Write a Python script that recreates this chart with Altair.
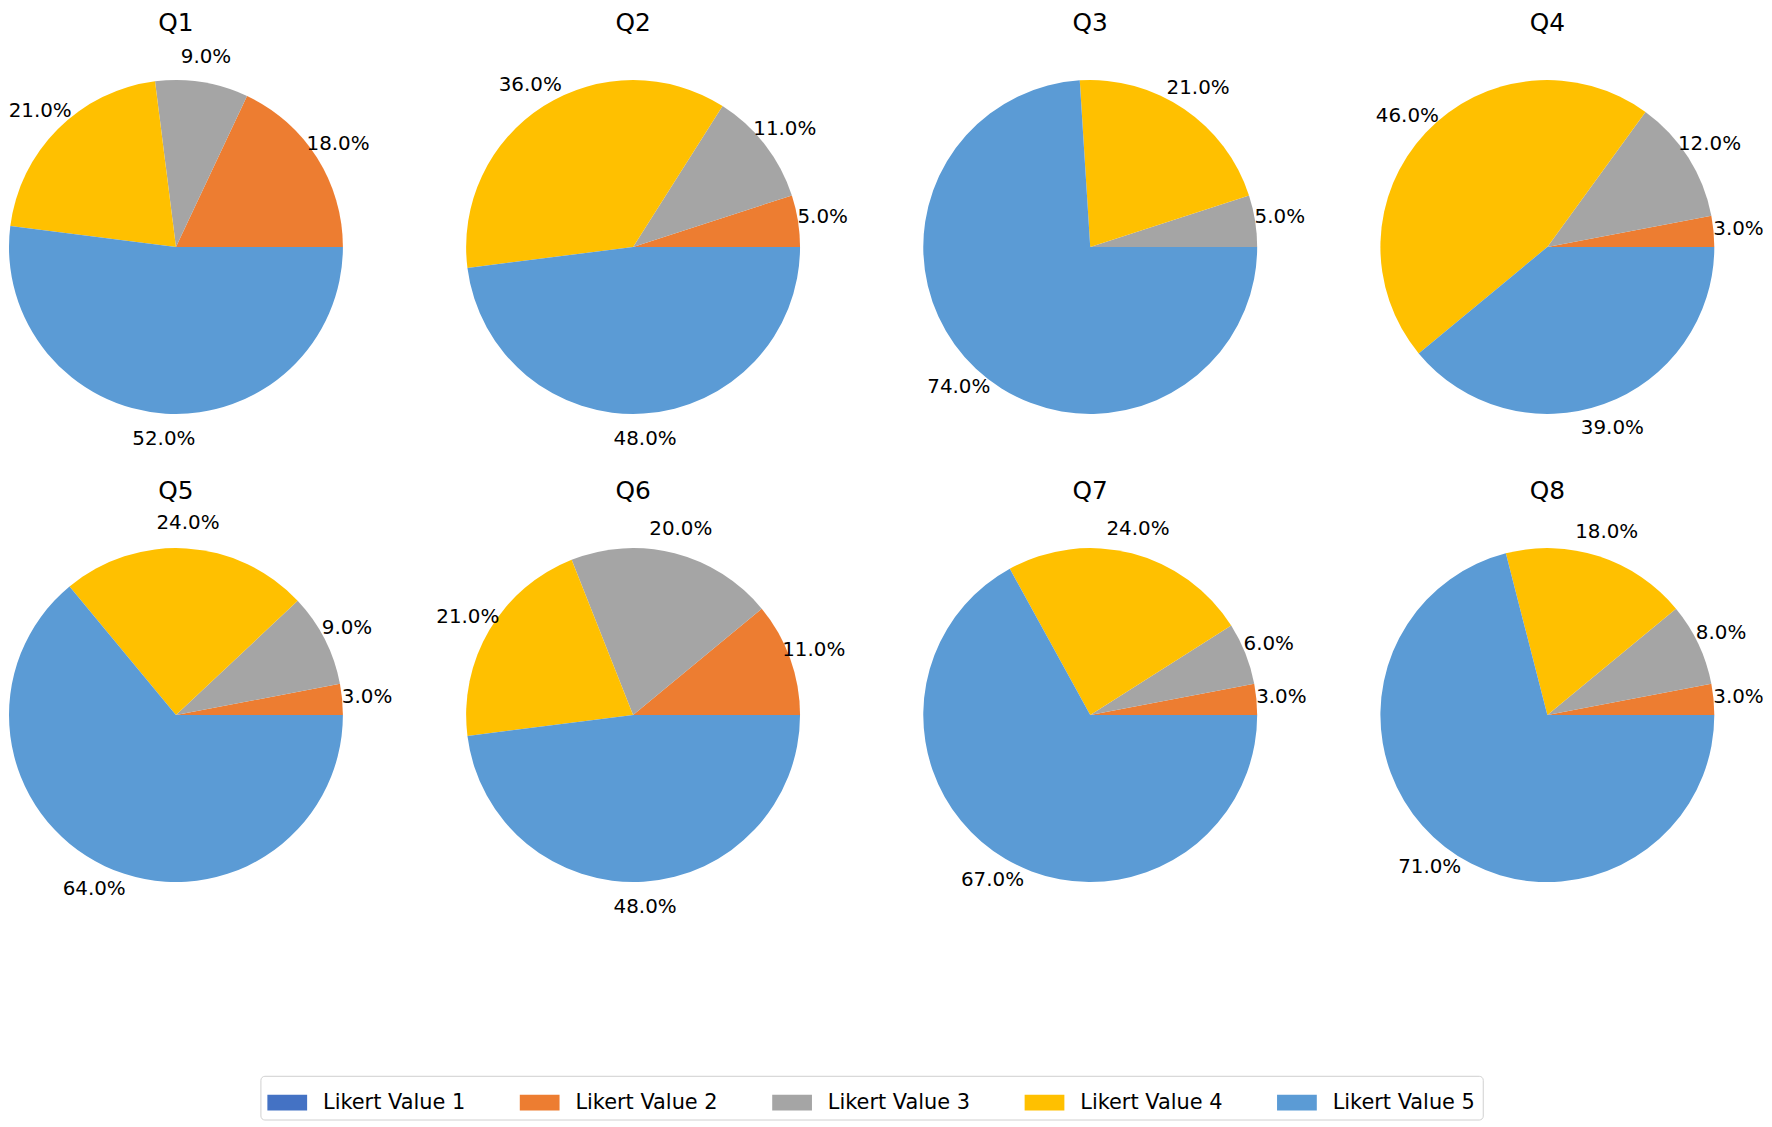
import pandas as pd
import altair as alt

# survey answers per question, share of each Likert value (%)
questions = ["Q1", "Q2", "Q3", "Q4", "Q5", "Q6", "Q7", "Q8"]
likert_labels = ["Likert Value 1", "Likert Value 2", "Likert Value 3",
                 "Likert Value 4", "Likert Value 5"]
likert_colors = ["#4472C4", "#ED7D31", "#A5A5A5", "#FFC000", "#5B9BD5"]

q1 = [0, 18, 9, 21, 52]
q2 = [0, 5, 11, 36, 48]
q3 = [0, 0, 5, 21, 74]
q4 = [0, 3, 12, 46, 39]
q5 = [0, 3, 9, 24, 64]
q6 = [0, 11, 20, 21, 48]
q7 = [0, 3, 6, 24, 67]
q8 = [0, 3, 8, 18, 71]
shares = [q1, q2, q3, q4, q5, q6, q7, q8]

rows = []
for q, vals in zip(questions, shares):
    for i, (lab, v) in enumerate(zip(likert_labels, vals)):
        rows.append({"question": q, "likert": lab, "order": i, "value": v})
df = pd.DataFrame(rows)

FONT = "DejaVu Sans"
R = 168
CY = 237  # pie centre inside each panel

# matplotlib style: start at 3 o'clock, go counter-clockwise
theta_scale = alt.Scale(range=[1.5707963, -4.712389])

legend = alt.Legend(title=None, orient="none", direction="horizontal",
                    legendX=250, legendY=1071,
                    columns=5, columnPadding=54, labelOffset=16,
                    symbolType="M-1,-0.4H1V0.4H-1Z", symbolSize=1600,
                    symbolStrokeWidth=0, symbolOpacity=1,
                    labelFontSize=21, labelFont=FONT, labelColor="black",
                    strokeColor="#d0d0d0", cornerRadius=4, padding=7,
                    fillColor="white")


def make_pie(q):
    """one pie with its percentage labels and title"""
    base = alt.Chart(df).transform_filter(alt.datum.question == q).encode(
        theta=alt.Theta("value:Q", stack=True, scale=theta_scale),
        order=alt.Order("order:Q", sort="ascending"),
        y=alt.value(CY),
    )
    pie = base.mark_arc(radius=R).encode(
        color=alt.Color("likert:N",
                        scale=alt.Scale(domain=likert_labels, range=likert_colors),
                        legend=legend)
    )
    labels = base.mark_text(radius=R * 1.15, fontSize=20, font=FONT, color="black",
                            align="center", baseline="middle").encode(
        text="pct:N"
    ).transform_filter("datum.value > 0").transform_calculate(
        pct="format(datum.value, '.1f') + '%'"
    )
    title = alt.Chart(df).transform_filter(
        (alt.datum.question == q) & (alt.datum.order == 0)
    ).mark_text(fontSize=25, font=FONT, color="black",
                align="center", baseline="alphabetic").encode(
        text="question:N",
        y=alt.value(20),
    )
    return alt.layer(pie, labels, title).properties(width=330, height=471)


pies = [make_pie(q) for q in questions]

chart = alt.concat(*pies, columns=4, spacing={"column": 130, "row": 0}).properties(
    bounds="flush", padding=0
).configure_view(stroke=None)

chart.save("out.html", embed_options={"renderer": "svg", "actions": False})
